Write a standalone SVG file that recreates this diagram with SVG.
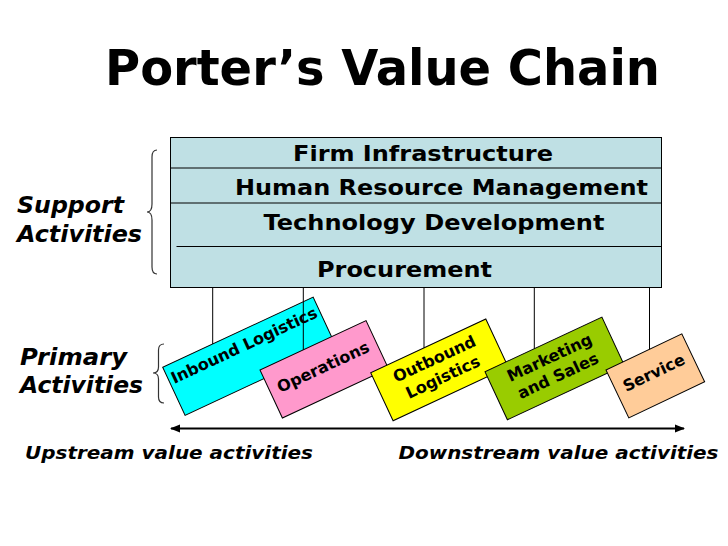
<svg xmlns="http://www.w3.org/2000/svg" width="728" height="546" viewBox="0 0 728 546">
<style>
  text { font-family: "DejaVu Sans", Verdana, sans-serif; font-weight: bold; fill: #000; }
  .title { font-size: 50px; }
  .row { font-size: 21.5px; text-anchor: start; }
  .lab { font-size: 23px; font-style: italic; }
  .flow { font-size: 18.5px; font-style: italic; }
  .bt { font-size: 16px; text-anchor: middle; }
  .box { stroke: #000; stroke-width: 1; }
  .brace { fill: none; stroke: #333; stroke-width: 1.2; }
  .conn { stroke: #000; stroke-width: 1; fill: none; }
</style>
<defs>
  <marker id="ah" viewBox="0 0 10 10" refX="9" refY="5" markerWidth="5" markerHeight="5" orient="auto-start-reverse">
    <path d="M0,1 L10,5 L0,9 z" fill="#000"/>
  </marker>
</defs>
<rect width="728" height="546" fill="#fff"/>

<g id="title"><text class="title" x="105" y="85" textLength="555" lengthAdjust="spacingAndGlyphs">Porter’s Value Chain</text></g>

<g id="support">
  <rect x="170.5" y="137.5" width="491" height="150" fill="#bfe0e4" class="box"/>
  <line x1="170.5" y1="168" x2="661.5" y2="168" class="conn"/>
  <line x1="170.5" y1="203" x2="661.5" y2="203" class="conn"/>
  <line x1="176.5" y1="246.5" x2="661.5" y2="246.5" class="conn"/>
  <text class="row" x="293" y="160.5" textLength="260" lengthAdjust="spacingAndGlyphs">Firm Infrastructure</text>
  <text class="row" x="235" y="194.5" textLength="413" lengthAdjust="spacingAndGlyphs">Human Resource Management</text>
  <text class="row" x="263.5" y="230" textLength="341" lengthAdjust="spacingAndGlyphs">Technology Development</text>
  <text class="row" x="317" y="277" textLength="175" lengthAdjust="spacingAndGlyphs">Procurement</text>
</g>

<g id="support-label">
  <path class="brace" d="M157,150 Q152,150 152,157 L152,204 Q152,212 147,212 Q152,212 152,220 L152,267 Q152,274 157,274"/>
  <text class="lab" x="17" y="213" textLength="107" lengthAdjust="spacingAndGlyphs">Support</text>
  <text class="lab" x="17" y="242" textLength="125" lengthAdjust="spacingAndGlyphs">Activities</text>
</g>

<g id="primary-label">
  <path class="brace" d="M164,344 Q158.5,344 158.5,350 L158.5,367 Q158.5,373 153,373 Q158.5,373 158.5,379 L158.5,397 Q158.5,403 164,403"/>
  <text class="lab" x="20" y="365" textLength="107" lengthAdjust="spacingAndGlyphs">Primary</text>
  <text class="lab" x="20" y="393" textLength="123" lengthAdjust="spacingAndGlyphs">Activities</text>
</g>

<g id="inbound" transform="translate(162.7,367.3) rotate(-25)">
  <rect width="166" height="53" fill="#00ffff" class="box"/>
  <text class="bt" x="83" y="20">Inbound Logistics</text>
</g>
<g id="operations" transform="translate(260,370) rotate(-25)">
  <rect width="117" height="53" fill="#ff99cc" class="box"/>
  <text class="bt" x="58.5" y="29.5">Operations</text>
</g>
<g id="outbound" transform="translate(370.7,372.7) rotate(-25)">
  <rect width="127" height="53" fill="#ffff00" class="box"/>
  <text class="bt" x="63.5" y="20">Outbound</text>
  <text class="bt" x="63.5" y="40">Logistics</text>
</g>
<g id="marketing" transform="translate(485,371.7) rotate(-25)">
  <rect width="129" height="53" fill="#99cc00" class="box"/>
  <text class="bt" x="64.5" y="20">Marketing</text>
  <text class="bt" x="64.5" y="40">and Sales</text>
</g>
<g id="service" transform="translate(606,370) rotate(-25.5)">
  <rect width="84" height="53" fill="#ffcc99" class="box"/>
  <text class="bt" x="42" y="28.5">Service</text>
</g>

<g id="connectors">
  <line class="conn" x1="212.7" y1="287.5" x2="212.7" y2="344"/>
  <line class="conn" x1="303.3" y1="287.5" x2="303.3" y2="349.8"/>
  <line class="conn" x1="424" y1="287.5" x2="424" y2="347.8"/>
  <line class="conn" x1="534.3" y1="287.5" x2="534.3" y2="348.7"/>
  <line class="conn" x1="649.5" y1="287.5" x2="649.5" y2="349.3"/>
  <line x1="171" y1="428.5" x2="684" y2="428.5" stroke="#000" stroke-width="2" marker-start="url(#ah)" marker-end="url(#ah)"/>
</g>

<g id="flow-labels">
  <text class="flow" x="25" y="458.5" textLength="288" lengthAdjust="spacingAndGlyphs">Upstream value activities</text>
  <text class="flow" x="398.5" y="458.5" textLength="320" lengthAdjust="spacingAndGlyphs">Downstream value activities</text>
</g>
</svg>
